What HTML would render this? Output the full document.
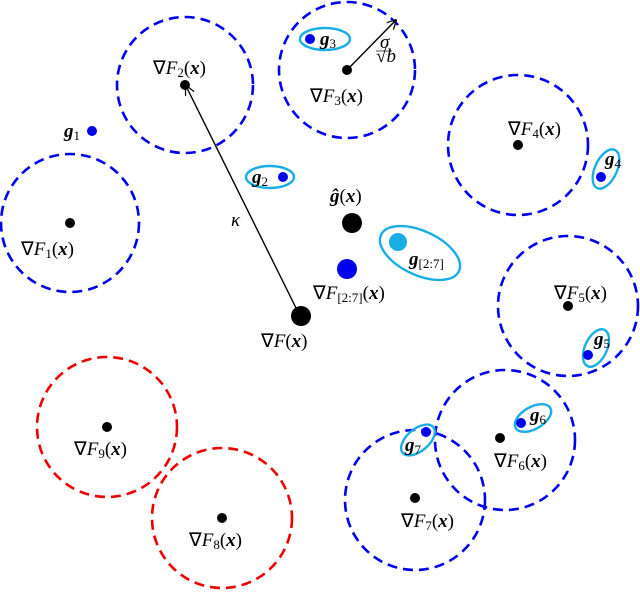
<!DOCTYPE html>
<html><head><meta charset="utf-8"><style>
html,body{margin:0;padding:0;background:#fff;}
svg text{font-family:"Liberation Serif",serif;font-size:19px;fill:#000;}
.b{font-weight:bold;font-style:italic;}
.i{font-style:italic;}
</style></head><body>
<svg width="640" height="591" viewBox="0 0 640 591" xmlns="http://www.w3.org/2000/svg">
<defs><marker id="a" markerWidth="10" markerHeight="10" refX="9" refY="5" orient="auto" markerUnits="userSpaceOnUse"><path d="M0,0 L10,5 L0,10" fill="none" stroke="#000" stroke-width="1.2"/></marker></defs>
<g fill="none" stroke-width="2.6" stroke-dasharray="10,6">
<circle cx="185" cy="85" r="68" stroke="#0000ee"/>
<circle cx="347" cy="70" r="68" stroke="#0000ee"/>
<circle cx="518" cy="145" r="70" stroke="#0000ee"/>
<circle cx="70" cy="223" r="69" stroke="#0000ee"/>
<circle cx="568" cy="306" r="70" stroke="#0000ee"/>
<circle cx="505" cy="440" r="70" stroke="#0000ee"/>
<circle cx="415" cy="500" r="70" stroke="#0000ee"/>
<circle cx="107" cy="427" r="70" stroke="#ee0000"/>
<circle cx="222" cy="518" r="70" stroke="#ee0000"/>
</g>
<g fill="none" stroke="#1aaee8" stroke-width="2.4">
<ellipse cx="270" cy="177" rx="24" ry="11"/>
<ellipse cx="325" cy="39" rx="25" ry="11"/>
<ellipse cx="606" cy="169" rx="11" ry="21" transform="rotate(25 606 169)"/>
<ellipse cx="596" cy="348" rx="11" ry="20" transform="rotate(25 596 348)"/>
<ellipse cx="533" cy="418" rx="20" ry="11" transform="rotate(-30 533 418)"/>
<ellipse cx="418" cy="440" rx="20" ry="11" transform="rotate(-40 418 440)"/>
<ellipse cx="420" cy="253" rx="43" ry="22" transform="rotate(25 420 253)"/>
</g>
<g stroke="#000" stroke-width="1.4">
<line x1="300" y1="316" x2="186" y2="86" marker-end="url(#a)"/>
<line x1="347" y1="70" x2="396" y2="20" marker-end="url(#a)"/>
</g>
<g fill="#000">
<circle cx="185" cy="85" r="5"/><circle cx="347" cy="70" r="5"/><circle cx="518" cy="145" r="5"/>
<circle cx="70" cy="223" r="5"/><circle cx="568" cy="306" r="5"/><circle cx="500" cy="438" r="5"/>
<circle cx="415" cy="498" r="5"/><circle cx="107" cy="427" r="5"/><circle cx="222" cy="518" r="5"/>
<circle cx="352" cy="223" r="10"/><circle cx="301" cy="316" r="10"/>
</g>
<g fill="#0000ee">
<circle cx="92" cy="131" r="5"/><circle cx="283" cy="177" r="5"/><circle cx="310" cy="39" r="5"/>
<circle cx="601" cy="177" r="5"/><circle cx="588" cy="355" r="5"/><circle cx="521" cy="423" r="5"/>
<circle cx="426" cy="432" r="5"/><circle cx="347" cy="269" r="10"/>
</g>
<circle cx="398" cy="242" r="9" fill="#1aaee8"/>
<text x="64" y="137" class="b">g<tspan font-size="13" dy="3" font-style="normal" font-weight="normal">1</tspan></text>
<text x="252" y="183" class="b">g<tspan font-size="13" dy="3" font-style="normal" font-weight="normal">2</tspan></text>
<text x="320" y="45" class="b">g<tspan font-size="13" dy="3" font-style="normal" font-weight="normal">3</tspan></text>
<text x="605" y="165" class="b">g<tspan font-size="13" dy="3" font-style="normal" font-weight="normal">4</tspan></text>
<text x="594" y="345" class="b">g<tspan font-size="13" dy="3" font-style="normal" font-weight="normal">5</tspan></text>
<text x="530" y="421" class="b">g<tspan font-size="13" dy="3" font-style="normal" font-weight="normal">6</tspan></text>
<text x="405" y="451" class="b">g<tspan font-size="13" dy="3" font-style="normal" font-weight="normal">7</tspan></text>
<text x="409" y="265" class="b">g<tspan font-size="13" dy="3" font-style="normal" font-weight="normal">[2:7]</tspan></text>
<text x="330" y="202" class="b">ĝ<tspan font-weight="normal" font-style="normal">(</tspan>x<tspan font-weight="normal" font-style="normal">)</tspan></text>
<text x="153" y="74">∇<tspan class="i">F</tspan><tspan font-size="13" dy="3">2</tspan><tspan dy="-3">(</tspan><tspan class="b">x</tspan>)</text>
<text x="310" y="102">∇<tspan class="i">F</tspan><tspan font-size="13" dy="3">3</tspan><tspan dy="-3">(</tspan><tspan class="b">x</tspan>)</text>
<text x="508" y="135">∇<tspan class="i">F</tspan><tspan font-size="13" dy="3">4</tspan><tspan dy="-3">(</tspan><tspan class="b">x</tspan>)</text>
<text x="21" y="255">∇<tspan class="i">F</tspan><tspan font-size="13" dy="3">1</tspan><tspan dy="-3">(</tspan><tspan class="b">x</tspan>)</text>
<text x="554" y="299">∇<tspan class="i">F</tspan><tspan font-size="13" dy="3">5</tspan><tspan dy="-3">(</tspan><tspan class="b">x</tspan>)</text>
<text x="494" y="467">∇<tspan class="i">F</tspan><tspan font-size="13" dy="3">6</tspan><tspan dy="-3">(</tspan><tspan class="b">x</tspan>)</text>
<text x="401" y="527">∇<tspan class="i">F</tspan><tspan font-size="13" dy="3">7</tspan><tspan dy="-3">(</tspan><tspan class="b">x</tspan>)</text>
<text x="74" y="455">∇<tspan class="i">F</tspan><tspan font-size="13" dy="3">9</tspan><tspan dy="-3">(</tspan><tspan class="b">x</tspan>)</text>
<text x="189" y="546">∇<tspan class="i">F</tspan><tspan font-size="13" dy="3">8</tspan><tspan dy="-3">(</tspan><tspan class="b">x</tspan>)</text>
<text x="313" y="299">∇<tspan class="i">F</tspan><tspan font-size="13" dy="3">[2:7]</tspan><tspan dy="-3">(</tspan><tspan class="b">x</tspan>)</text>
<text x="261" y="347">∇<tspan class="i">F</tspan>(<tspan class="b">x</tspan>)</text>
<text x="231" y="226" class="i">κ</text>
<text x="380" y="48" font-size="10" class="i">σ</text>
<line x1="376" y1="51" x2="392" y2="51" stroke="#000" stroke-width="0.7"/>
<text x="376" y="62" font-size="10">√<tspan class="i">b</tspan></text>
</svg>
</body></html>
